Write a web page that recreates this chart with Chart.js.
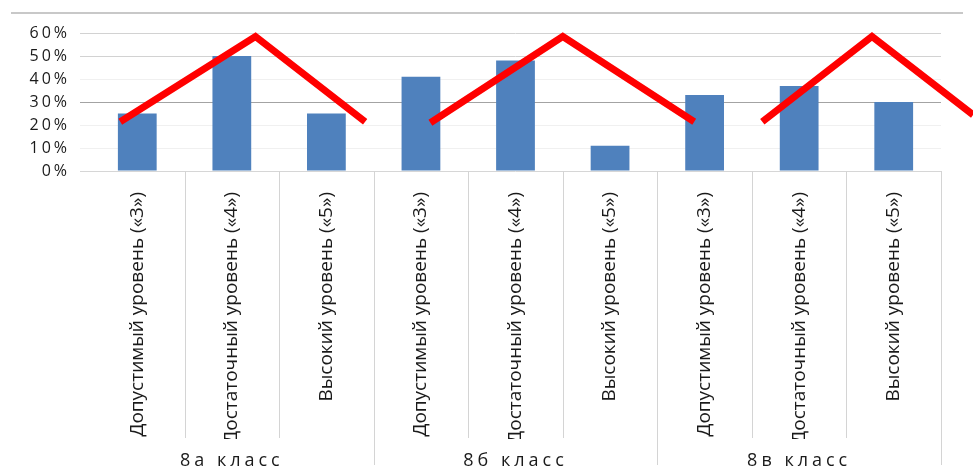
<!DOCTYPE html>
<html lang="ru">
<head>
<meta charset="utf-8">
<title>Уровни — 8 классы</title>
<script src="https://cdn.jsdelivr.net/npm/chart.js@4.4.1/dist/chart.umd.min.js"></script>
<style>
    html, body { margin: 0; padding: 0; background: #fff; }
    #wrap { position: relative; width: 973px; height: 476px; overflow: hidden; }
    #frame { position: absolute; left: 11px; top: 12px; width: 952px; border-top: 2px solid #c8c8c8; }
    canvas { position: absolute; left: 0; top: 0; }
</style>
</head>
<body>
<div id="wrap">
    <div id="frame"></div>
    <canvas id="levelsChart" width="973" height="476"></canvas>
</div>
<script>
const levels = ['Допустимый уровень («3»)', 'Достаточный уровень («4»)', 'Высокий уровень («5»)'];
const classes = ['8а класс', '8б класс', '8в класс'];
const shares = [25, 50, 25, 41, 48, 11, 33, 37, 30];
const yTicks = [0, 10, 20, 30, 40, 50, 60];

// red "roof" marks over each class, x in category index units
const roofX = [[-0.18, 1.25, 2.41], [3.1, 4.5, 5.89], [6.61, 7.77, 8.84]];
const roofY = [[21.4, 58.5, 21.4], [21, 58.5, 21.4], [21.4, 58.5, 24.4]];

const categories = classes.flatMap(() => levels);

Chart.defaults.font.family = '"Open Sans", "DejaVu Sans", sans-serif';
Chart.defaults.color = '#1a1a1a';

function gridColor(ctx) {
    const v = ctx.tick && ctx.tick.value;
    if (v === 30) return '#a3a3a3';
    if (v === 60 || v === 50) return '#d2d2d2';
    if (v === 0) return '#d6d6d6';
    return '#f0f0f0';
}

// y tick labels and class names are drawn letter-spaced, like the original
const spacedLabels = {
    id: 'spacedLabels',
    beforeDraw(chart) {
        [['y', '3px'], ['x2', '4px']].forEach(([id, sp]) => {
            const s = chart.scales[id];
            if (!s || s._spaced) return;
            const orig = s.drawLabels;
            s.drawLabels = function (area) {
                this.ctx.save();
                this.ctx.letterSpacing = sp;
                orig.call(this, area);
                this.ctx.restore();
            };
            s._spaced = true;
        });
    }
};

// vertical separators between the category labels
const separators = {
    id: 'separators',
    afterDraw(chart) {
        const { ctx, scales: { x, x2 } } = chart;
        const n = categories.length;
        ctx.save();
        ctx.strokeStyle = '#d4d4d4';
        ctx.lineWidth = 1;
        for (let i = 1; i <= n; i++) {
            const px = i < n ? (x.getPixelForTick(i - 1) + x.getPixelForTick(i)) / 2 : x.right;
            const bottom = i % levels.length === 0 ? x2.bottom - 5 : x.bottom - 1;
            ctx.beginPath();
            ctx.moveTo(Math.round(px) + 0.5, x.top);
            ctx.lineTo(Math.round(px) + 0.5, bottom);
            ctx.stroke();
        }
        ctx.restore();
    }
};

const roofSets = roofX.map((xs, k) => ({
    type: 'line',
    xAxisID: 'xr',
    yAxisID: 'y',
    data: xs.map((x, i) => ({ x: x, y: roofY[k][i] })),
    borderColor: '#ff0000',
    borderWidth: 7,
    borderJoinStyle: 'miter',
    borderCapStyle: 'butt',
    pointRadius: 0,
    tension: 0,
    clip: false,
    order: 1
}));

new Chart(document.getElementById('levelsChart'), {
    type: 'bar',
    data: {
        labels: categories,
        datasets: [{
            label: 'Доля учащихся',
            data: shares,
            xAxisID: 'x',
            yAxisID: 'y',
            backgroundColor: '#4f81bd',
            grouped: false,
            categoryPercentage: 1,
            barPercentage: 0.41,
            order: 2
        }, ...roofSets]
    },
    options: {
        responsive: false,
        devicePixelRatio: 1,
        animation: false,
        layout: { padding: { top: 33, right: 32, bottom: 6, left: 0 } },
        plugins: {
            legend: { display: false },
            tooltip: { enabled: false }
        },
        scales: {
            x: {
                type: 'category',
                position: 'bottom',
                offset: true,
                grid: { display: false },
                border: { display: false },
                ticks: {
                    autoSkip: false,
                    maxRotation: 90,
                    minRotation: 90,
                    padding: 13,
                    font: { size: 19 }
                },
                afterFit: s => { s.height = 268; }
            },
            x2: {
                type: 'category',
                position: 'bottom',
                labels: classes,
                offset: true,
                grid: { display: false },
                border: { display: false },
                ticks: { padding: 3, font: { size: 18 } },
                afterFit: s => { s.height = 31; }
            },
            xr: {
                type: 'linear',
                display: false,
                offset: false,
                min: -0.5,
                max: categories.length - 0.5
            },
            y: {
                min: 0,
                max: 60,
                border: { display: false },
                grid: { color: gridColor, tickLength: 10, lineWidth: 1 },
                afterBuildTicks: s => { s.ticks = yTicks.map(v => ({ value: v })); },
                ticks: {
                    padding: 10,
                    font: { size: 16 },
                    callback: v => v + '%'
                },
                afterFit: s => { s.width = 90; }
            }
        }
    },
    plugins: [spacedLabels, separators]
});
</script>
</body>
</html>
